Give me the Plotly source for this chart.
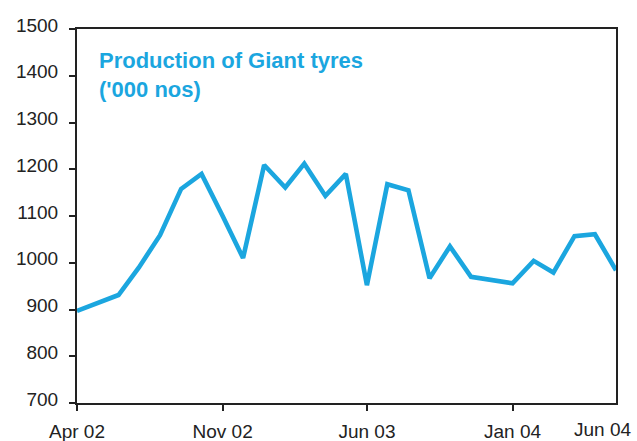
import plotly.graph_objects as go

months = ["2002-04-01", "2002-05-01", "2002-06-01", "2002-07-01", "2002-08-01", "2002-09-01",
          "2002-10-01", "2002-11-01", "2002-12-01", "2003-01-01", "2003-02-01", "2003-03-01",
          "2003-04-01", "2003-05-01", "2003-06-01", "2003-07-01", "2003-08-01", "2003-09-01",
          "2003-10-01", "2003-11-01", "2003-12-01", "2004-01-01", "2004-02-01", "2004-03-01",
          "2004-04-01", "2004-05-01", "2004-06-01"]
production = [897, 914, 931, 990, 1059, 1158, 1190, 1100, 1010, 1209, 1161, 1212,
              1143, 1190, 952, 1168, 1155, 967, 1035, 970, 963, 956, 1004, 979,
              1057, 1061, 984]

tick_vals = ["2002-04-01", "2002-11-01", "2003-06-01", "2004-01-01"]
tick_text = ["Apr 02", "Nov 02", "Jun 03", "Jan 04"]
last_tick_val = "2004-06-01"
last_tick_text = "Jun 04"
y_ticks = [700, 800, 900, 1000, 1100, 1200, 1300, 1400, 1500]

title_lines = ["Production of Giant tyres", "('000 nos)"]

BLUE = "#1BA6DF"
INK = "#222222"
FONT = "Liberation Sans, Arial, sans-serif"

fig = go.Figure()
fig.add_trace(go.Scatter(
    x=months, y=production, mode="lines",
    line=dict(color=BLUE, width=4.6),
    hoverinfo="skip", showlegend=False,
))

fig.update_layout(
    width=637, height=441,
    margin=dict(l=77, r=21, t=29, b=38),
    paper_bgcolor="white", plot_bgcolor="white",
    font=dict(family=FONT, size=19, color=INK),
    showlegend=False,
    xaxis=dict(
        type="date", automargin=False,
        range=[months[0], months[-1]],
        tickmode="array", tickvals=tick_vals, ticktext=tick_text,
        ticks="outside", ticklen=6, tickwidth=2, tickcolor=INK,
        showline=True, linewidth=2, linecolor=INK, mirror=True,
        showgrid=False, zeroline=False,
        ticklabelstandoff=4,
        tickfont=dict(family=FONT, size=19, color=INK),
    ),
    yaxis=dict(
        automargin=False,
        range=[700, 1500],
        tickmode="array", tickvals=y_ticks,
        ticks="outside", ticklen=6, tickwidth=2, tickcolor=INK,
        showline=True, linewidth=2, linecolor=INK, mirror=True,
        showgrid=False, zeroline=False,
        ticklabelstandoff=7, ticklabelshift=-4,
        tickfont=dict(family=FONT, size=19, color=INK),
    ),
)

fig.add_annotation(
    x=last_tick_val, xref="x", y=0, yref="paper",
    text=last_tick_text, showarrow=False,
    xanchor="right", yanchor="top", xshift=17, yshift=-14,
    font=dict(family=FONT, size=19, color=INK),
)

fig.add_annotation(
    x=0.038, xref="paper", y=0.917, yref="paper",
    text="<b>" + title_lines[0] + "</b>", showarrow=False,
    xanchor="left", yanchor="middle",
    font=dict(family=FONT, size=22, color=BLUE),
)
fig.add_annotation(
    x=0.038, xref="paper", y=0.837, yref="paper",
    text="<b>" + title_lines[1] + "</b>", showarrow=False,
    xanchor="left", yanchor="middle",
    font=dict(family=FONT, size=22, color=BLUE),
)

fig.write_html("out.html", config={"displayModeBar": False},
               post_script="document.body.style.margin='0px';")
